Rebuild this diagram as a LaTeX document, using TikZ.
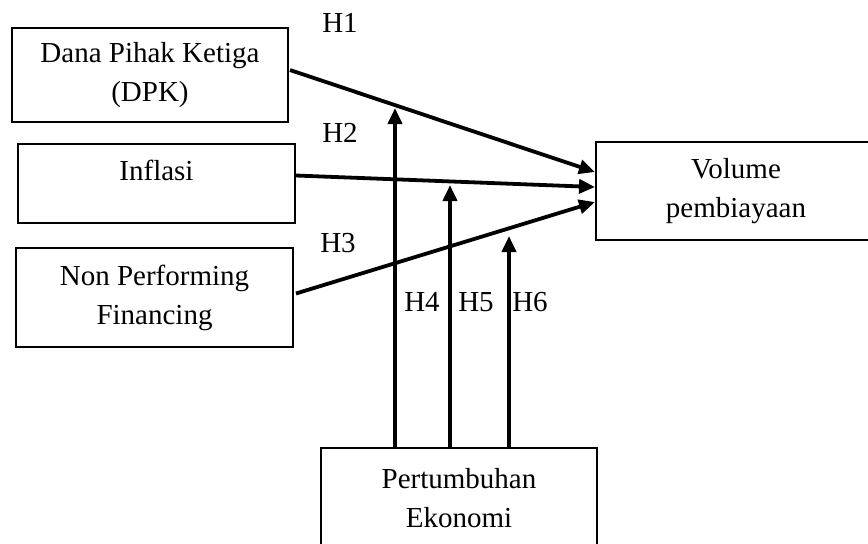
\documentclass[tikz,border=0pt]{standalone}
\usepackage{fontspec}
\setmainfont{Liberation Serif}
\usepackage{tikz}
\usetikzlibrary{arrows.meta,calc}

\begin{document}
\begin{tikzpicture}[x=0.5pt, y=-0.5pt,
  varbox/.style={draw, line width=1pt, align=center, inner sep=0pt,
    font=\fontsize{14.5}{19.5}\selectfont},
  hyp/.style={font=\fontsize{14.5}{19.5}\selectfont},
  link/.style={line width=1.9pt, -{Triangle[length=8pt,width=7pt]}}]
  % Page frame
  \useasboundingbox (0,0) rectangle (868,543);
  \clip (0,0) rectangle (868,543);
  % Independent variables
  \node[varbox, minimum width=138pt, minimum height=47pt] (dpk) at (150,75) {Dana Pihak Ketiga\\(DPK)};
  \node[varbox, minimum width=138.5pt, minimum height=39.5pt] (inf) at (156.5,183.5) {Inflasi\\[-12pt]\strut};
  \node[varbox, minimum width=138.5pt, minimum height=49.5pt] (npf) at (154.5,297.5) {Non Performing\\Financing};
  % Dependent variable
  \node[varbox, minimum width=140pt, minimum height=49pt] (vol) at (736,191) {Volume\\pembiayaan};
  % Moderating variable
  \node[varbox, minimum width=138pt, minimum height=50pt] (eko) at (459,498) {Pertumbuhan\\Ekonomi};
  % Direct effects
  \draw[link] ($(dpk.east)+(1,-5)$) -- ($(vol.west)+(0,-19)$);
  \draw[link] ($(inf.east)+(0,-8)$) -- ($(vol.west)+(0,-4)$);
  \draw[link] ($(npf.east)+(2,-4)$) -- ($(vol.west)+(0,11)$);
  % Moderation arrows
  \coordinate (t4) at (395,108);
  \coordinate (t5) at (450,185);
  \coordinate (t6) at (509,236);
  \foreach \t in {t4,t5,t6} {
    \draw[link] (eko.north -| \t) -- (\t);
  }
  % Hypothesis labels
  \node[hyp] (h1) at (340,23) {H1};
  \node[hyp] (h2) at (340,133) {H2};
  \node[hyp] (h3) at (338,243) {H3};
  \node[hyp] (h4) at (422,302) {H4};
  \node[hyp] (h5) at (476,302) {H5};
  \node[hyp] (h6) at (530,302) {H6};
\end{tikzpicture}
\end{document}
